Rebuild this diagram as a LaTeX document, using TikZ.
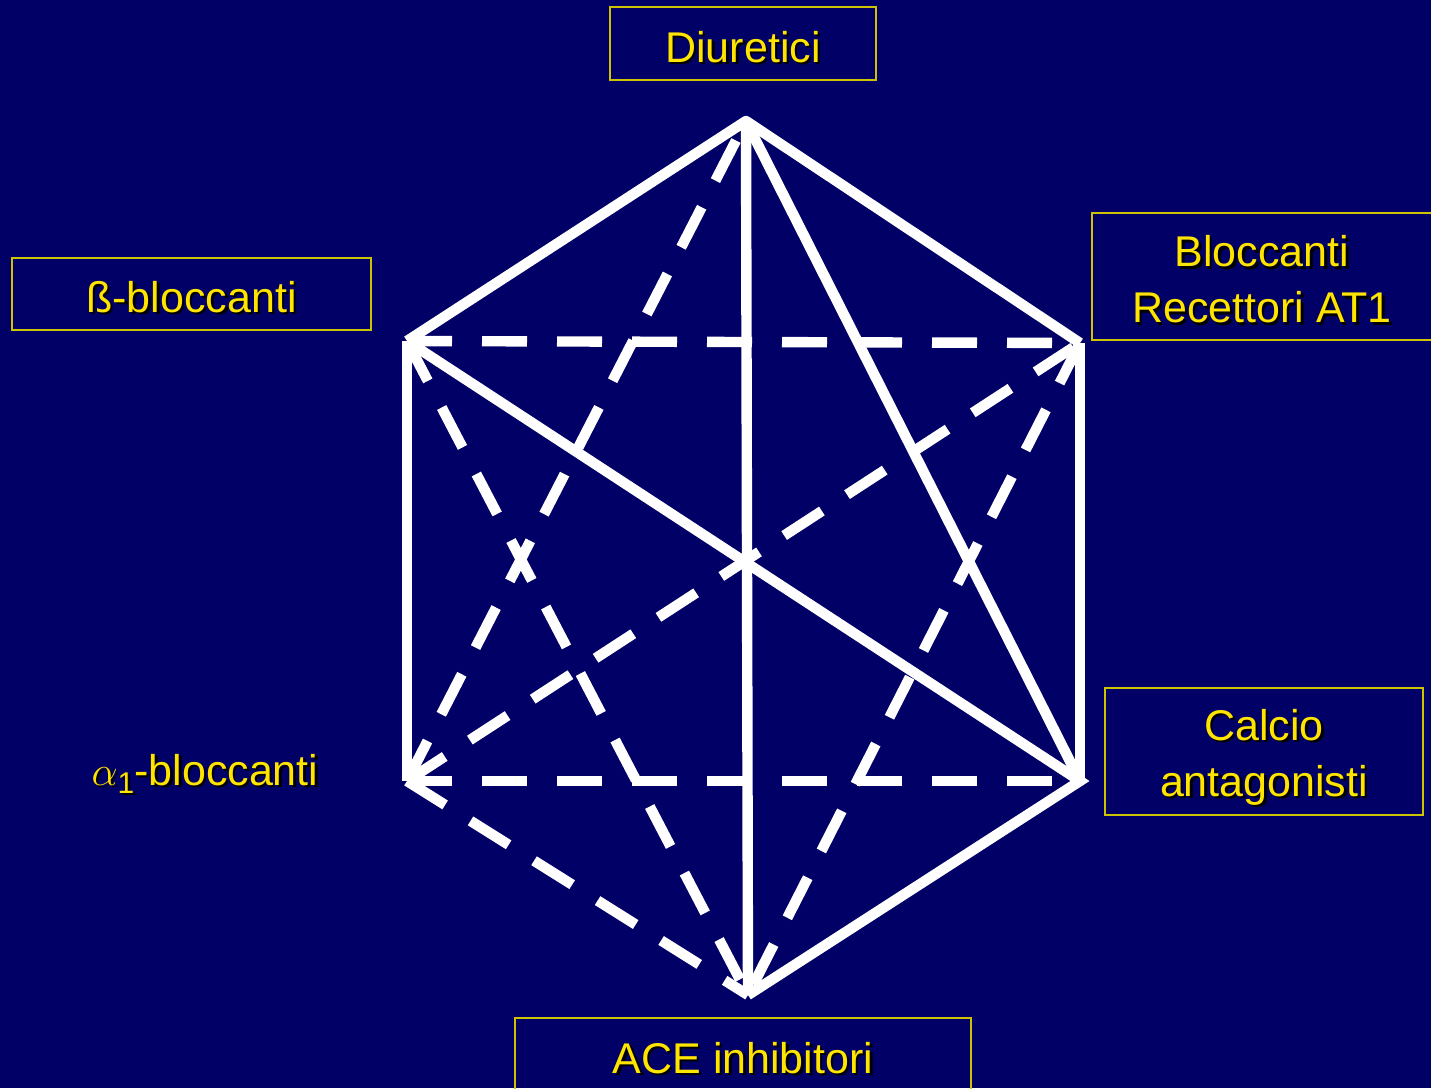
\documentclass[tikz,border=0pt]{standalone}
\usepackage{fontspec}
\setmainfont{Liberation Sans}
\definecolor{bg}{RGB}{0,0,102}
\definecolor{ylw}{RGB}{255,228,0}
\definecolor{boxline}{RGB}{205,195,0}
\newcommand{\shd}[1]{\makebox[0pt][l]{\kern1.2pt\raisebox{-1.2pt}{\color{black}#1}}#1}
\begin{document}
\begin{tikzpicture}[x=0.5pt,y=-0.5pt,
  solidline/.style={white,line width=5.2pt},
  dashline/.style={white,line width=5.2pt,dash pattern=on 22.5pt off 15pt},
  lbl/.style={text=ylw,font=\fontsize{21.5pt}{28pt}\selectfont,align=center,inner sep=0pt},
  boxed/.style={lbl,draw=boxline,line width=0.9pt}]
\fill[bg] (0,0) rectangle (1431,1088);
\useasboundingbox (0,0) rectangle (1431,1088);
% vertices
\coordinate (T) at (746,121);
\coordinate (UL) at (407,341);
\coordinate (UR) at (1080,343);
\coordinate (LL) at (407,781);
\coordinate (LR) at (1080,781);
\coordinate (B) at (748,995);
% dashed connectors
\draw[dashline] (UL) -- (UR);
\draw[dashline] (LL) -- (LR);
\draw[dashline] (LL) -- (T);
\draw[dashline] (UL) -- (B);
\draw[dashline] (LL) -- (UR);
\draw[dashline] (LL) -- (B);
\draw[dashline] (UR) -- (B);
% solid connectors
\draw[solidline,line join=round] (UL) -- (T) -- (UR);
\draw[solidline] (T) -- (B);
\draw[solidline] (T) -- (LR);
\draw[solidline] (UL) -- (LL);
\draw[solidline] (UR) -- (LR);
\draw[solidline,line join=miter] (UL) -- (LR) -- (B);
% labels
\node[boxed,minimum width=133pt,minimum height=36.5pt,text height=18.5pt,text depth=0pt] (diu) at (743,43.5) {\shd{Diuretici}};
\node[boxed,minimum width=179.5pt,minimum height=36pt,text height=18pt,text depth=0pt] (beta) at (191.5,294) {\shd{ß-bloccanti}};
\node[boxed,minimum width=170pt,minimum height=63.5pt] (at1) at (1262,276.5) {\rule{0pt}{19.8pt}\shd{Bloccanti}\\\shd{Recettori AT1}};
\node[boxed,minimum width=159pt,minimum height=63.5pt] (cal) at (1264,751.5) {\rule{0pt}{22.5pt}\shd{Calcio}\\\shd{antagonisti}};
\node[boxed,minimum width=228pt,minimum height=41pt,text height=14pt,text depth=0pt] (ace) at (743,1059) {\shd{ACE inhibitori}};
\node[lbl,anchor=base] (alpha) at (205,785) {\shd{$\alpha$\raisebox{-4pt}{\fontsize{15pt}{15pt}\selectfont 1}-bloccanti}};
\end{tikzpicture}
\end{document}
